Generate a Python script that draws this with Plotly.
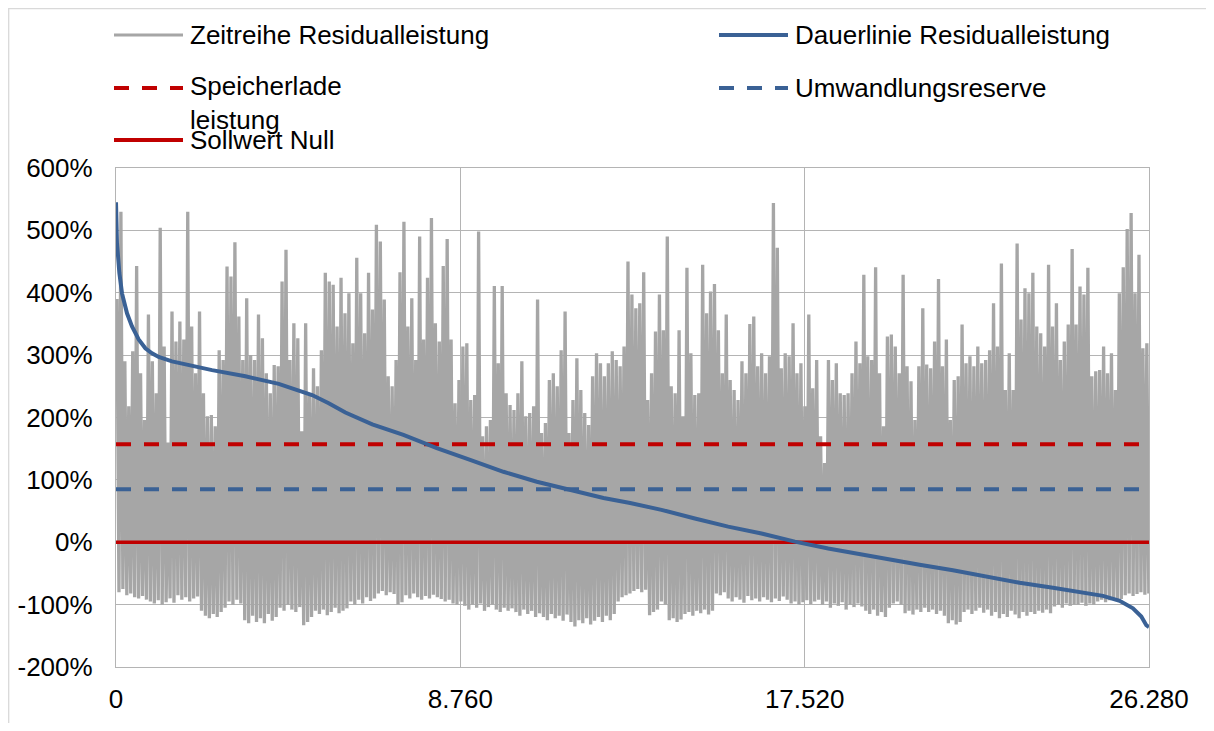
import plotly.graph_objects as go

# ---------------- data ----------------
BIN_HOURS = 100  # time resolution of the read-off envelope (hours per bin)

# per-bin maxima of the time series (in %)
zeitreihe_hi = [
    390, 530, 290, 218, 306, 443, 271, 196, 365, 290,
    239, 504, 314, 160, 370, 322, 354, 325, 530, 346,
    271, 370, 239, 202, 204, 186, 308, 292, 442, 426,
    481, 362, 292, 391, 300, 292, 365, 327, 271, 239,
    284, 282, 418, 469, 292, 351, 327, 178, 351, 239,
    279, 250, 308, 432, 418, 413, 346, 424, 367, 399,
    319, 456, 399, 335, 432, 373, 509, 482, 389, 266,
    250, 292, 433, 514, 346, 391, 292, 490, 325, 424,
    520, 351, 322, 443, 486, 325, 223, 260, 314, 319,
    228, 236, 498, 170, 186, 196, 411, 287, 411, 239,
    220, 212, 239, 290, 202, 207, 218, 389, 175, 191,
    260, 271, 250, 308, 370, 175, 228, 295, 244, 207,
    188, 266, 303, 287, 266, 287, 306, 292, 282, 314,
    450, 397, 375, 383, 433, 228, 271, 338, 397, 340,
    490, 250, 239, 340, 202, 440, 303, 236, 239, 445,
    367, 402, 414, 340, 271, 365, 260, 244, 228, 290,
    271, 350, 362, 282, 303, 271, 298, 544, 472, 279,
    303, 298, 351, 271, 287, 218, 365, 247, 292, 170,
    127, 292, 260, 287, 239, 236, 239, 271, 322, 287,
    429, 298, 292, 441, 271, 186, 330, 333, 314, 271,
    429, 282, 258, 196, 282, 375, 285, 279, 322, 422,
    282, 325, 196, 260, 266, 349, 287, 298, 282, 314,
    287, 292, 308, 383, 314, 447, 244, 303, 244, 479,
    357, 407, 399, 432, 346, 335, 314, 445, 346, 383,
    292, 322, 349, 470, 349, 410, 397, 440, 266, 274,
    276, 314, 271, 303, 244, 399, 441, 502, 528, 399,
    461, 311, 319,
]

# per-bin minima of the time series (in %)
zeitreihe_lo = [
    -80, -75, -85, -82, -88, -90, -86, -92,
    -95, -98, -93, -100, -96, -90, -97,
    -85, -92, -88, -95, -90, -87,
    -110, -118, -122, -115, -120, -112, -105,
    -95, -100, -92, -98,
    -125, -130, -118, -128, -122, -130, -115, -126, -120,
    -105, -110, -100, -108, -112, -104,
    -133, -128, -120,
    -110, -115, -108, -117, -112, -105, -114, -110, -106,
    -95, -100, -92, -98, -88, -94, -90,
    -82, -78, -85, -80, -83,
    -100, -96,
    -85, -90, -82, -88, -92, -86, -90, -84, -88, -91,
    -95, -92, -98, -100, -95,
    -102, -108, -100, -105, -98, -110, -104, -100,
    -108, -112, -105, -110, -106,
    -112, -118, -108, -115, -110, -120, -114,
    -120, -125, -115, -122, -118, -126, -116,
    -128, -135, -125, -130, -122, -132, -126,
    -120, -128, -118, -125, -115,
    -95, -88, -85, -82,
    -78, -75, -80, -76,
    -117, -112, -108,
    -95, -100,
    -125, -122, -128, -124,
    -115, -112, -118, -110, -114, -108, -116, -110,
    -82, -85, -80,
    -90, -95, -88, -92, -97, -86, -93, -90, -95, -88, -92, -96, -90, -94, -87, -92,
    -98, -95, -100, -96, -93, -99, -95,
    -92, -100, -95, -105, -98, -102, -96, -108, -100, -104, -98, -103,
    -110, -115, -108, -118, -112, -120, -105,
    -98, -95, -100,
    -114, -110, -116, -108, -112,
    -105, -112, -108, -115, -110, -118,
    -130, -125, -132, -128,
    -112, -108, -115, -110, -105, -113, -108,
    -118, -112, -122, -115, -120, -110, -116, -122, -112, -118,
    -112, -115, -110, -113, -108, -114,
    -103, -100, -105, -98, -102, -100,
    -100, -97, -102, -98, -100,
    -95, -92, -96, -93, -90, -94, -91,
    -85, -82, -86, -83, -80, -84, -82,
]

# duration curve (sorted residual load), hours vs %
dauer_hours = [0, 25, 85, 153, 280, 407, 577, 747, 916, 1086, 1425, 1850, 2443,
               3291, 4140, 4988, 5412, 5836, 6260, 6520, 7312, 8161, 9009, 9857,
               10706, 11554, 12402, 13080, 13877, 14726, 15574, 16422, 17271,
               18119, 18967, 19650, 20443, 21292, 22140, 22988, 23837, 24685,
               25109, 25533, 25872, 26084, 26211, 26280]
dauer_values = [545, 480, 432, 399, 367, 346, 325, 311, 303, 297, 290, 284, 276,
                266, 254, 236, 223, 208, 196, 189, 172, 151, 132, 113,
                97, 84, 71, 63, 52, 38, 25, 14, 1,
                -10, -20, -28, -36, -45, -55, -65, -73, -81,
                -86, -94, -106, -119, -133, -136]

speicherladeleistung = 157
umwandlungsreserve = 85
sollwert_null = 0

x_end = 26280
x_tickvals = [0, 8760, 17520, 26280]
x_ticktext = ["0", "8.760", "17.520", "26.280"]
y_tickvals = [-200, -100, 0, 100, 200, 300, 400, 500, 600]
y_ticktext = ["-200%", "-100%", "0%", "100%", "200%", "300%", "400%", "500%", "600%"]

names = ["Zeitreihe Residualleistung", "Dauerlinie Residualleistung",
         "Speicherlade<br>leistung", "Umwandlungsreserve", "Sollwert Null"]

# ---------------- styles ----------------
GRAY = "#a6a6a6"
BLUE = "#3a6195"
RED = "#c00000"
GRID = "#b4b4b4"
FONT = "Liberation Sans, Arial, sans-serif"
FS = 26
DASH = "15px,13px"

# ---------------- build series ----------------
ts_x, ts_y = [], []
for i, (h, l) in enumerate(zip(zeitreihe_hi, zeitreihe_lo)):
    ts_x += [i * BIN_HOURS + BIN_HOURS * 0.25, i * BIN_HOURS + BIN_HOURS * 0.75]
    ts_y += [h, l]

fig = go.Figure()
fig.add_trace(go.Scatter(x=ts_x, y=ts_y, mode="lines", name=names[0],
                         line=dict(color=GRAY, width=3.3), showlegend=False,
                         hoverinfo="skip"))
fig.add_trace(go.Scatter(x=[0, x_end], y=[sollwert_null] * 2, mode="lines", name=names[4],
                         line=dict(color=RED, width=3.5), showlegend=False))
fig.add_trace(go.Scatter(x=[0, x_end], y=[speicherladeleistung] * 2, mode="lines",
                         name=names[2], line=dict(color=RED, width=4, dash=DASH),
                         showlegend=False))
fig.add_trace(go.Scatter(x=[0, x_end], y=[umwandlungsreserve] * 2, mode="lines",
                         name=names[3], line=dict(color=BLUE, width=4, dash=DASH),
                         showlegend=False))
fig.add_trace(go.Scatter(x=dauer_hours, y=dauer_values, mode="lines", name=names[1],
                         line=dict(color=BLUE, width=4), showlegend=False))

# ---------------- layout ----------------
OFF = 8  # page body margin of the browser
ML, MT, W, H = 108, 160, 1198, 715
PW, PH = 1033, 499


def pxx(x):
    """page pixel x -> paper coordinate"""
    return (x - OFF - ML) / PW


def pxy(y):
    """page pixel y -> paper coordinate"""
    return (MT + PH - (y - OFF)) / PH


shapes = []
annotations = []
# outer chart-area border (light)
shapes.append(dict(type="rect", xref="paper", yref="paper",
                   x0=pxx(8.7), x1=pxx(1260), y0=pxy(780), y1=pxy(8.7),
                   line=dict(color="#d9d9d9", width=1.3), fillcolor="rgba(0,0,0,0)",
                   layer="below"))

legend_items = [
    (names[0], GRAY, "solid", 3, 114, 35),
    (names[1], BLUE, "solid", 4, 719, 35),
    (names[2], RED, DASH, 4, 114, 88),
    (names[3], BLUE, DASH, 4, 719, 88),
    (names[4], RED, "solid", 4, 114, 140),
]
for text, col, dash, lw, lx, ly in legend_items:
    shapes.append(dict(type="line", xref="paper", yref="paper",
                       x0=pxx(lx), x1=pxx(lx + 69), y0=pxy(ly), y1=pxy(ly),
                       line=dict(color=col, width=lw, dash=dash)))
    cy = ly if "<br>" not in text else ly + 15
    annotations.append(dict(xref="paper", yref="paper", x=pxx(lx + 74), y=pxy(cy),
                            text=text, showarrow=False, xanchor="left",
                            yanchor="middle", align="left",
                            font=dict(family=FONT, size=FS, color="black")))

fig.update_layout(
    width=W, height=H,
    margin=dict(l=ML, r=W - ML - PW, t=MT, b=H - MT - PH, autoexpand=False),
    paper_bgcolor="white", plot_bgcolor="white",
    font=dict(family=FONT, size=FS, color="black"),
    showlegend=False,
    shapes=shapes, annotations=annotations,
)
fig.update_xaxes(range=[0, x_end], tickvals=x_tickvals, ticktext=x_ticktext,
                 showgrid=True, gridcolor=GRID, gridwidth=1.3,
                 showline=True, linecolor=GRID, linewidth=1.3, mirror=True,
                 zeroline=False, ticks="", ticklabelstandoff=9, automargin=False,
                 tickfont=dict(family=FONT, size=FS, color="black"))
fig.update_yaxes(range=[-200, 600], tickvals=y_tickvals, ticktext=y_ticktext,
                 showgrid=True, gridcolor=GRID, gridwidth=1.3,
                 showline=True, linecolor=GRID, linewidth=1.3, mirror=True,
                 zeroline=False, ticks="", ticklabelstandoff=17, automargin=False,
                 tickfont=dict(family=FONT, size=FS, color="black"))

fig.write_html("out.html")
